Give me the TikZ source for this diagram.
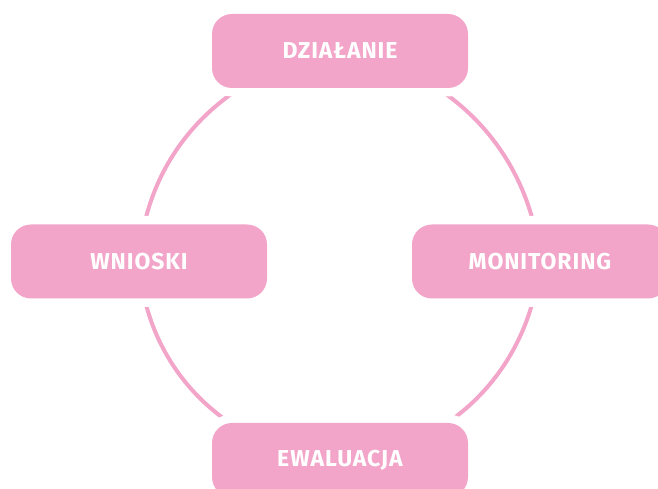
\documentclass[tikz,border=0pt]{standalone}
\usepackage{fontspec}
\setmainfont{Fira Sans}
\newfontfamily\stagefont{Fira Sans}[LetterSpace=4]
\usetikzlibrary{backgrounds}
\definecolor{cyclepink}{RGB}{242,165,200}
\tikzset{
    stage/.style={
        rectangle,
        rounded corners=20pt,
        fill=cyclepink,
        preaction={draw=white, line width=17pt},
        minimum width=256pt,
        minimum height=74pt,
        inner sep=0pt,
        text=white,
        font=\stagefont\fontsize{23}{27}\selectfont\bfseries
    },
    cycleline/.style={
        draw=cyclepink,
        line width=4pt
    }
}

\begin{document}
\begin{tikzpicture}[x=1pt, y=1pt]
        \useasboundingbox (0,0) rectangle (658,489);

        \node[stage] (dzialanie) at (340,438) {DZIAŁANIE};
        \node[stage] (monitoring) at (540,227.5) {MONITORING};
        \node[stage] (ewaluacja) at (340,29) {EWALUACJA};
        \node[stage] (wnioski) at (139,227.5) {WNIOSKI};

        \begin{pgfonlayer}{background}
            \path[cycleline] (dzialanie.center) .. controls (448,421) and (530,339) .. (monitoring.center);
            \path[cycleline] (monitoring.center) .. controls (530,119) and (448,37) .. (ewaluacja.center);
            \path[cycleline] (ewaluacja.center) .. controls (228,37) and (146,119) .. (wnioski.center);
            \path[cycleline] (wnioski.center) .. controls (146,339) and (228,421) .. (dzialanie.center);
        \end{pgfonlayer}
    \end{tikzpicture}
\end{document}
